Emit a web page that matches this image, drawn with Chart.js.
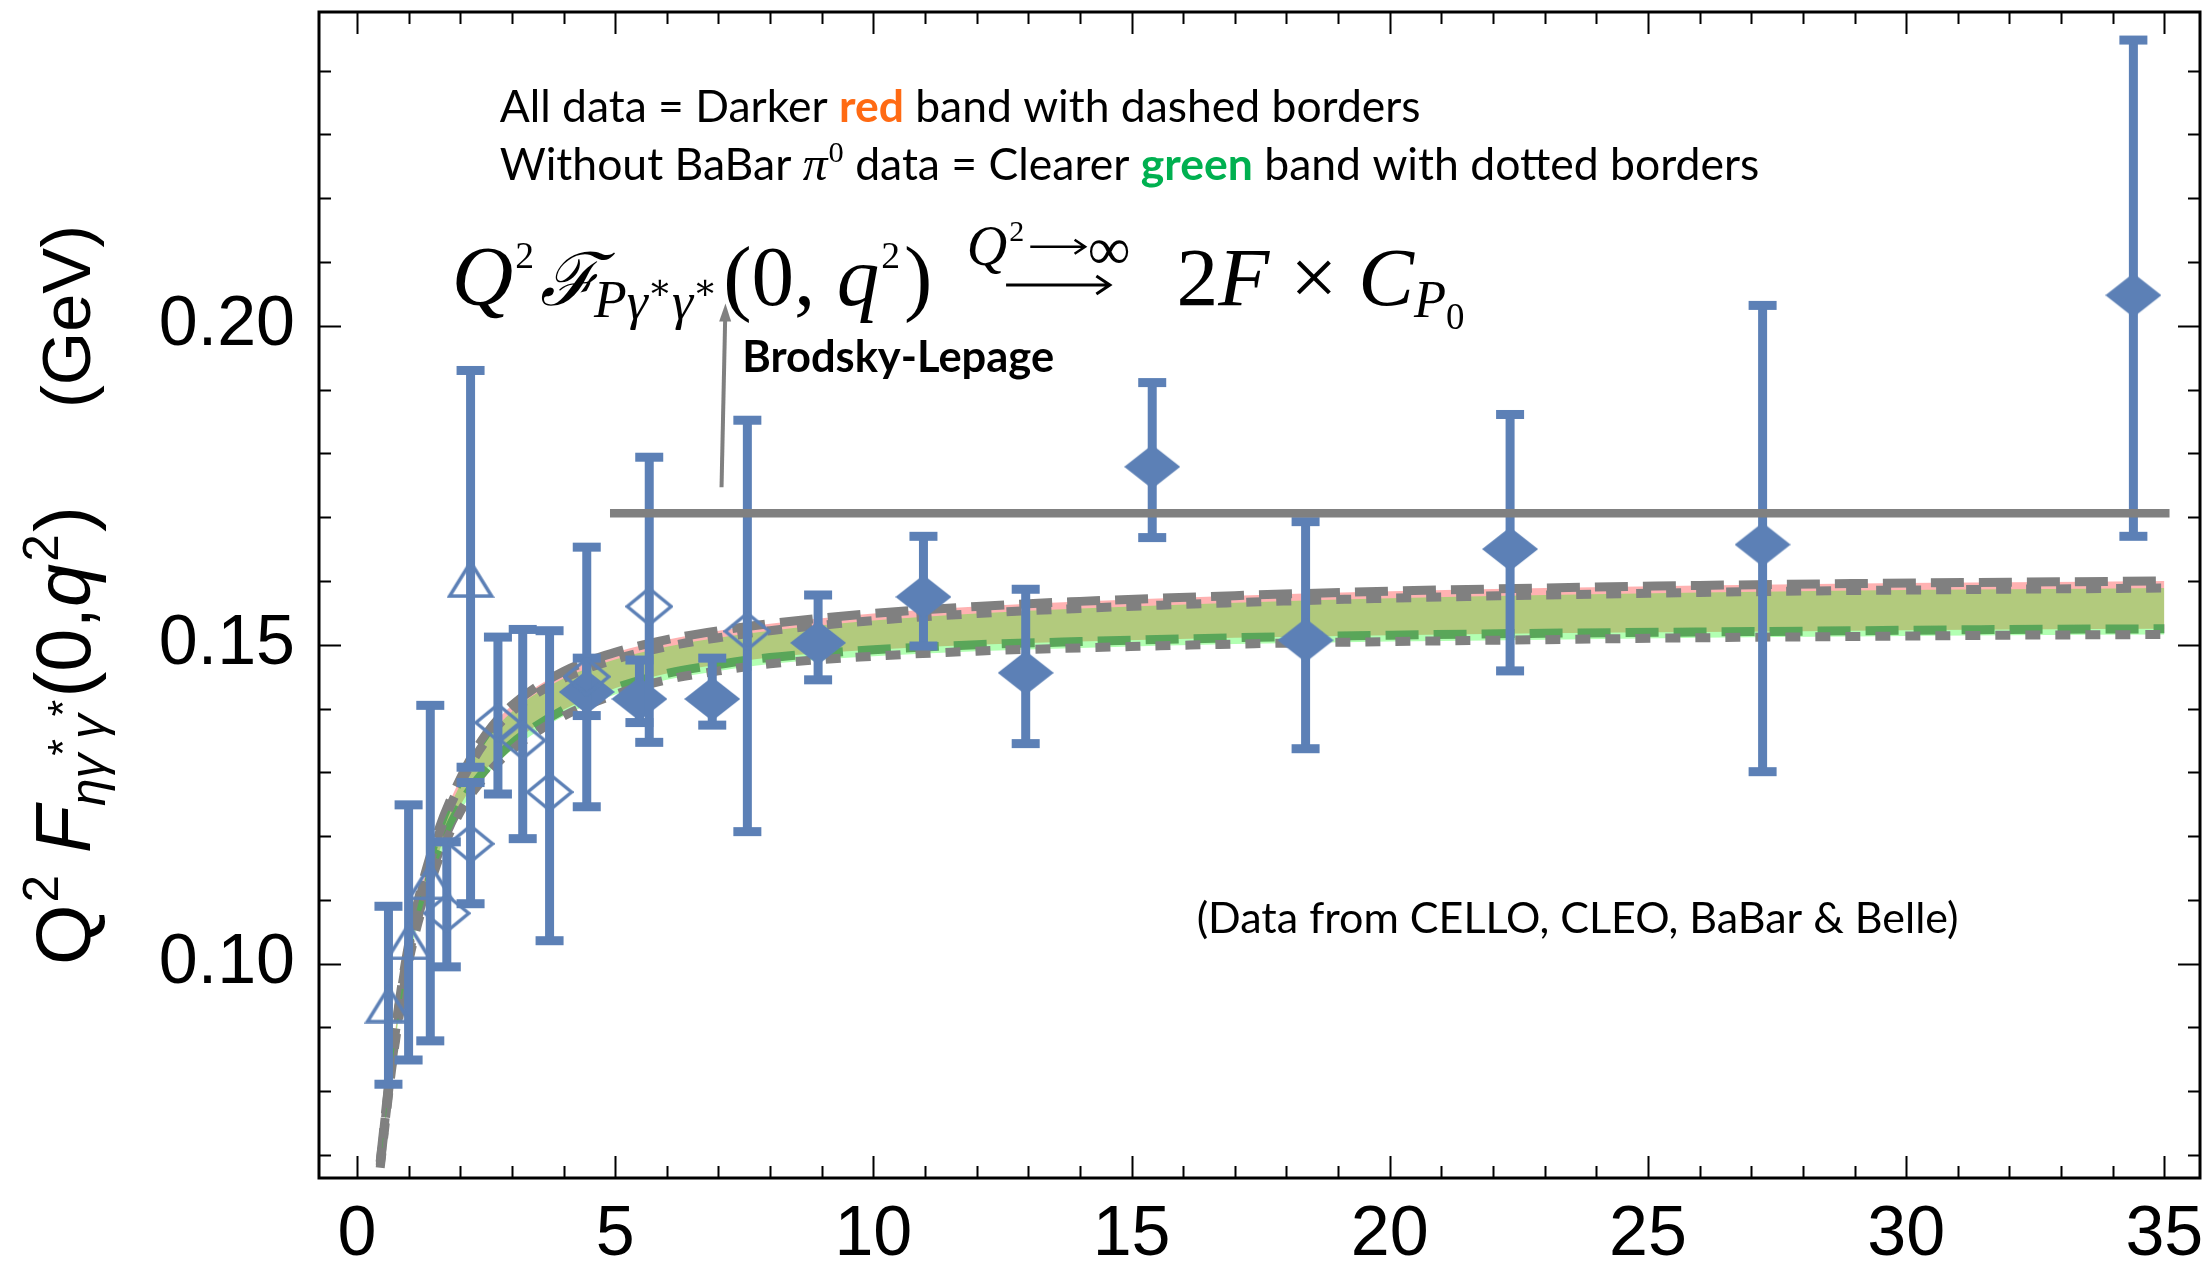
<!DOCTYPE html>
<html><head><meta charset="utf-8">
<script src="https://cdn.jsdelivr.net/npm/chart.js@4.4.1/dist/chart.umd.min.js"></script>
<style>html,body{margin:0;padding:0;background:#fff;}#wrap{width:2211px;height:1270px;}</style>
</head><body><div id="wrap"><canvas id="c" width="2211" height="1270" style="width:2211px;height:1270px"></canvas></div>
<script>
// ---------- data ----------
const bandX      = [0.45, 0.7, 1.0, 1.5, 2.0, 2.5, 3.0, 4.0, 5.0, 6.0, 7.0, 8.0, 10, 12, 14, 17, 20, 23, 26, 29, 32, 35];
const redUpper   = [0.0690,0.0870,0.1030,0.1190,0.1290,0.1360,0.1405,0.1458,0.1488,0.1508,0.1522,0.1533,0.1549,0.1560,0.1568,0.1577,0.1584,0.1589,0.1593,0.1596,0.1598,0.1600];
const redLower   = [0.0684,0.0858,0.1010,0.1155,0.1248,0.1305,0.1345,0.1398,0.1432,0.1455,0.1469,0.1480,0.1492,0.1500,0.1505,0.1511,0.1515,0.1518,0.1520,0.1522,0.1524,0.1525];
const greenUpper = [0.0688,0.0866,0.1024,0.1182,0.1281,0.1350,0.1395,0.1447,0.1477,0.1497,0.1511,0.1522,0.1538,0.1549,0.1557,0.1566,0.1573,0.1578,0.1582,0.1585,0.1587,0.1589];
const greenLower = [0.0680,0.0852,0.1002,0.1145,0.1238,0.1295,0.1335,0.1388,0.1422,0.1445,0.1459,0.1470,0.1482,0.1490,0.1495,0.1501,0.1505,0.1508,0.1511,0.1513,0.1515,0.1516];

const celloX  = [0.61, 1.00, 1.42, 2.20];
const celloY  = [0.0950, 0.1049, 0.1143, 0.1617];
const celloLo = [0.0811, 0.0849, 0.0879, 0.1308];
const celloHi = [0.1090, 0.1249, 0.1405, 0.1930];

const cleoX  = [1.74, 2.20, 2.73, 3.21, 3.73, 4.45, 5.66, 7.56];
const cleoY  = [0.1079, 0.1188, 0.1378, 0.1350, 0.1269, 0.1450, 0.1560, 0.1521];
const cleoLo = [0.0995, 0.1094, 0.1266, 0.1196, 0.1036, 0.1246, 0.1347, 0.1207];
const cleoHi = [0.1191, 0.1284, 0.1512, 0.1524, 0.1522, 0.1653, 0.1794, 0.1852];

const babarX  = [4.45, 5.47, 6.88, 8.93, 10.97, 12.95, 15.40, 18.37, 22.33, 27.22, 34.40];
const babarY  = [0.1426, 0.1415, 0.1415, 0.1503, 0.1575, 0.1456, 0.1779, 0.1507, 0.1650, 0.1657, 0.2048];
const babarLo = [0.1389, 0.1378, 0.1374, 0.1445, 0.1498, 0.1345, 0.1668, 0.1337, 0.1459, 0.1301, 0.1670];
const babarHi = [0.1479, 0.1476, 0.1479, 0.1578, 0.1670, 0.1587, 0.1911, 0.1693, 0.1861, 0.2032, 0.2448];

const limitX = [4.9, 35.1];
const limitY = [0.1706, 0.1706];

const xTickValues = [0, 5, 10, 15, 20, 25, 30, 35];
const yTickValues = [0.10, 0.15, 0.20];

// ---------- styling ----------
const BLUE = 'rgb(92,128,182)';
const GRAY = '#808080';
const zip = (xs, ys) => xs.map((x, i) => ({x, y: ys[i]}));

function markerCanvas(kind) {
  const c = document.createElement('canvas');
  let ctx;
  if (kind === 'filledDiamond') {
    c.width = 56; c.height = 44; ctx = c.getContext('2d');
    ctx.fillStyle = BLUE; ctx.beginPath();
    ctx.moveTo(28, 0); ctx.lineTo(56, 22); ctx.lineTo(28, 44); ctx.lineTo(0, 22); ctx.closePath(); ctx.fill();
  } else if (kind === 'openDiamond') {
    c.width = 48; c.height = 40; ctx = c.getContext('2d');
    ctx.strokeStyle = BLUE; ctx.lineWidth = 3.5; ctx.beginPath();
    ctx.moveTo(24, 2); ctx.lineTo(46, 20); ctx.lineTo(24, 38); ctx.lineTo(2, 20); ctx.closePath(); ctx.stroke();
  } else {
    c.width = 48; c.height = 56; ctx = c.getContext('2d');
    ctx.strokeStyle = BLUE; ctx.lineWidth = 3.5; ctx.lineJoin = 'miter'; ctx.beginPath();
    ctx.moveTo(24, 20); ctx.lineTo(45, 54); ctx.lineTo(3, 54); ctx.closePath(); ctx.stroke();
  }
  return c;
}

const lineDefaults = {showLine: true, pointRadius: 0, pointHoverRadius: 0, borderWidth: 9, borderColor: GRAY, cubicInterpolationMode: 'monotone'};

const datasets = [
  Object.assign({}, lineDefaults, {label: 'redUpper', data: zip(bandX, redUpper), borderDash: [33, 15], fill: '+1', backgroundColor: 'rgba(255,0,0,0.3)', order: 6}),
  Object.assign({}, lineDefaults, {label: 'redLower', data: zip(bandX, redLower), borderDash: [33, 15], fill: false, order: 5}),
  Object.assign({}, lineDefaults, {label: 'greenUpper', data: zip(bandX, greenUpper), borderDash: [15, 15], fill: '+1', backgroundColor: 'rgba(0,255,0,0.3)', order: 4}),
  Object.assign({}, lineDefaults, {label: 'greenLower', data: zip(bandX, greenLower), borderDash: [15, 15], fill: false, order: 3}),
  {label: 'CELLO', data: zip(celloX, celloY), pointStyle: markerCanvas('triangle'), pointRadius: 10, errLo: celloLo, errHi: celloHi, order: 2},
  {label: 'CLEO', data: zip(cleoX, cleoY), pointStyle: markerCanvas('openDiamond'), pointRadius: 10, errLo: cleoLo, errHi: cleoHi, order: 2},
  {label: 'BaBar/Belle', data: zip(babarX, babarY), pointStyle: markerCanvas('filledDiamond'), pointRadius: 10, errLo: babarLo, errHi: babarHi, order: 2},
  {label: 'BL limit', data: zip(limitX, limitY), showLine: true, pointRadius: 0, borderWidth: 8.5, borderColor: GRAY, fill: false, order: 0}
];

const errorBars = {
  id: 'errorBars',
  beforeDatasetDraw(chart, args) {
    const ds = chart.data.datasets[args.index];
    if (!ds.errLo) return;
    const xs = chart.scales.x, ys = chart.scales.y, ctx = chart.ctx;
    ctx.save(); ctx.fillStyle = BLUE;
    ds.data.forEach((p, i) => {
      const px = xs.getPixelForValue(p.x);
      const yl = ys.getPixelForValue(ds.errLo[i]), yh = ys.getPixelForValue(ds.errHi[i]);
      ctx.fillRect(px - 4.5, yh, 9, yl - yh);
      ctx.fillRect(px - 14, yh - 4.5, 28, 9);
      ctx.fillRect(px - 14, yl - 4.5, 28, 9);
    });
    ctx.restore();
  }
};

function font(s, size) { return `${s.st || ''} ${size}px ${s.fam}`; }
// rich text; sizes are scaled so the whole line has width `target` (if given)
function drawRich(ctx, x, y, segs, target) {
  let k = 1;
  if (target) {
    let w = 0;
    for (const s of segs) { ctx.font = font(s, s.sz); w += ctx.measureText(s.t).width + (s.dx || 0); }
    k = target / w;
  }
  let cx = x;
  for (const s of segs) {
    ctx.font = font(s, s.sz * k); ctx.fillStyle = s.c || '#000';
    cx += (s.dx || 0) * k;
    ctx.fillText(s.t, cx, y + (s.dy || 0) * k);
    cx += ctx.measureText(s.t).width;
  }
  return cx;
}
function arrow(ctx, x0, x1, y, lw, head) {
  ctx.lineWidth = lw; ctx.beginPath();
  ctx.moveTo(x0, y); ctx.lineTo(x1, y);
  ctx.moveTo(x1 - head * 1.5, y - head); ctx.lineTo(x1, y); ctx.lineTo(x1 - head * 1.5, y + head);
  ctx.stroke();
}

const decorations = {
  id: 'decorations',
  afterDraw(chart) {
    const ctx = chart.ctx, a = chart.chartArea, xs = chart.scales.x, ys = chart.scales.y;
    const X = v => xs.getPixelForValue(v), Y = v => ys.getPixelForValue(v);
    ctx.save();
    // frame
    ctx.strokeStyle = '#000'; ctx.lineWidth = 3;
    ctx.strokeRect(a.left, a.top, a.right - a.left, a.bottom - a.top);
    // inward ticks on all four sides
    ctx.lineWidth = 2; ctx.beginPath();
    for (let k = 0; k <= 35; k++) {
      const L = (k % 5 === 0) ? 22 : 12, px = Math.round(X(k)) + 0.5;
      ctx.moveTo(px, a.bottom); ctx.lineTo(px, a.bottom - L);
      ctx.moveTo(px, a.top); ctx.lineTo(px, a.top + L);
    }
    for (let k = 7; k <= 24; k++) {
      const L = (k % 5 === 0) ? 22 : 12, py = Math.round(Y(k / 100)) + 0.5;
      ctx.moveTo(a.left, py); ctx.lineTo(a.left + L, py);
      ctx.moveTo(a.right, py); ctx.lineTo(a.right - L, py);
    }
    ctx.stroke();

    ctx.textBaseline = 'alphabetic'; ctx.textAlign = 'left';
    const SANS = '"Liberation Sans", Arial, sans-serif';
    const SER = '"Liberation Serif", "DejaVu Serif", serif';
    const DJS = '"DejaVu Serif", serif';
    const CAL = 'Lato, "Open Sans", sans-serif';

    // y-axis title
    ctx.save();
    ctx.translate(90, 965); ctx.rotate(-Math.PI / 2);
    drawRich(ctx, 0, 0, [
      {t: 'Q', fam: SANS, sz: 72},
      {t: '2', fam: SANS, sz: 46, dy: -30, dx: 2},
      {t: ' ', fam: SANS, sz: 72},
      {t: 'F', fam: SANS, st: 'italic', sz: 72},
      {t: 'η', fam: SANS, st: 'italic', sz: 46, dy: 14},
      {t: 'γ', fam: SANS, st: 'italic', sz: 46, dy: 14},
      {t: '*', fam: SANS, sz: 40, dy: -12, dx: -2},
      {t: 'γ', fam: SANS, st: 'italic', sz: 46, dy: 14},
      {t: '*', fam: SANS, sz: 40, dy: -12, dx: -2},
      {t: '(0,', fam: SANS, sz: 72, dx: 2},
      {t: 'q', fam: SANS, st: 'italic', sz: 72},
      {t: '2', fam: SANS, sz: 46, dy: -30, dx: 2},
      {t: ')', fam: SANS, sz: 72, dx: 2}
    ], 459);
    drawRich(ctx, 557, 0, [{t: '(GeV)', fam: SANS, sz: 72}], 183);
    ctx.restore();

    // explanatory text
    drawRich(ctx, X(2.765), Y(0.2319), [
      {t: 'All data = Darker ', fam: CAL, sz: 38},
      {t: 'red', fam: CAL, st: 'bold', sz: 38, c: '#FF6A13'},
      {t: ' band with dashed borders', fam: CAL, sz: 38}
    ], 921);
    drawRich(ctx, X(2.765), Y(0.2228), [
      {t: 'Without BaBar ', fam: CAL, sz: 38},
      {t: 'π', fam: '"Liberation Serif", serif', st: 'italic', sz: 42},
      {t: '0', fam: '"Liberation Serif", serif', sz: 26, dy: -16, dx: 1},
      {t: ' data = Clearer ', fam: CAL, sz: 38},
      {t: 'green', fam: CAL, st: 'bold', sz: 38, c: '#00B050'},
      {t: ' band with dotted borders', fam: CAL, sz: 38}
    ], 1260);

    // formula
    drawRich(ctx, X(1.837), Y(0.2032), [
      {t: 'Q', fam: SER, st: 'italic', sz: 86},
      {t: '2', fam: SER, sz: 38, dy: -38, dx: 2},
      {t: 'ℱ', fam: DJS, st: 'italic', sz: 74, dx: 6},
      {t: 'P', fam: SER, st: 'italic', sz: 54, dy: 12, dx: -6},
      {t: 'γ', fam: SER, st: 'italic', sz: 54, dy: 14},
      {t: '∗', fam: DJS, sz: 36, dy: -6},
      {t: 'γ', fam: SER, st: 'italic', sz: 54, dy: 14},
      {t: '∗', fam: DJS, sz: 36, dy: -6},
      {t: '(0, ', fam: SER, sz: 86, dx: 6},
      {t: 'q', fam: SER, st: 'italic', sz: 86},
      {t: '2', fam: SER, sz: 38, dy: -38, dx: 2},
      {t: ')', fam: SER, sz: 86, dx: 4}
    ], 481);
    // limit label  Q^2 -> infinity  above a long arrow
    ctx.strokeStyle = '#000';
    const qEnd = drawRich(ctx, X(11.81), Y(0.2095), [
      {t: 'Q', fam: SER, st: 'italic', sz: 56},
      {t: '2', fam: SER, sz: 30, dy: -24, dx: 2}
    ]);
    arrow(ctx, qEnd + 6, X(14.10), Y(0.2124), 2.5, 7);
    drawRich(ctx, X(14.15), Y(0.2089), [{t: '∞', fam: SER, sz: 60}]);
    arrow(ctx, X(12.57), X(14.58), Y(0.2064), 3, 9);
    drawRich(ctx, X(15.87), Y(0.2032), [
      {t: '2', fam: SER, sz: 86},
      {t: 'F', fam: SER, st: 'italic', sz: 86},
      {t: ' × ', fam: SER, sz: 86},
      {t: 'C', fam: SER, st: 'italic', sz: 86},
      {t: 'P', fam: SER, st: 'italic', sz: 54, dy: 12},
      {t: '0', fam: SER, sz: 38, dy: 24}
    ], 288);

    // Brodsky-Lepage arrow + label
    ctx.strokeStyle = GRAY; ctx.fillStyle = GRAY; ctx.lineWidth = 4;
    const bx0 = X(7.06), by0 = Y(0.1747), bx1 = X(7.13), by1 = Y(0.2010);
    ctx.beginPath(); ctx.moveTo(bx0, by0); ctx.lineTo(bx1, by1); ctx.stroke();
    ctx.beginPath(); ctx.moveTo(bx1 + 0.3, by1 - 16); ctx.lineTo(bx1 + 6, by1 + 2); ctx.lineTo(bx1 - 6, by1 + 2); ctx.closePath(); ctx.fill();
    drawRich(ctx, X(7.46), Y(0.1927), [{t: 'Brodsky-Lepage', fam: CAL, st: 'bold', sz: 40}], 312);

    // data source note
    drawRich(ctx, X(16.26), Y(0.1048), [{t: '(Data from CELLO, CLEO, BaBar & Belle)', fam: CAL, sz: 37}], 762);
    ctx.restore();
  }
};

new Chart(document.getElementById('c'), {
  type: 'scatter',
  data: {datasets},
  options: {
    responsive: false, animation: false, devicePixelRatio: 1,
    layout: {padding: {top: 12, right: 8, left: 0, bottom: 0}},
    plugins: {legend: {display: false}, tooltip: {enabled: false}},
    scales: {
      x: {
        type: 'linear', min: -0.735, max: 35.69,
        grid: {display: false, drawTicks: false}, border: {display: false},
        afterBuildTicks: ax => { ax.ticks = xTickValues.map(v => ({value: v})); },
        afterFit: s => { s.height = 92; s.paddingLeft = 0; s.paddingRight = 0; s.paddingTop = 0; s.paddingBottom = 0; },
        ticks: {font: {family: '"Liberation Sans", Arial, sans-serif', size: 70}, color: '#000', padding: 16, maxRotation: 0, autoSkip: false, callback: v => String(v)}
      },
      y: {
        type: 'linear', min: 0.0664, max: 0.2492,
        grid: {display: false, drawTicks: false}, border: {display: false},
        afterBuildTicks: ax => { ax.ticks = yTickValues.map(v => ({value: v})); },
        afterFit: s => { s.width = 319; s.paddingLeft = 0; s.paddingRight = 0; s.paddingTop = 0; s.paddingBottom = 0; },
        ticks: {font: {family: '"Liberation Sans", Arial, sans-serif', size: 70}, color: '#000', padding: 24, autoSkip: false, callback: v => v.toFixed(2)}
      }
    }
  },
  plugins: [errorBars, decorations]
});
</script></body></html>
